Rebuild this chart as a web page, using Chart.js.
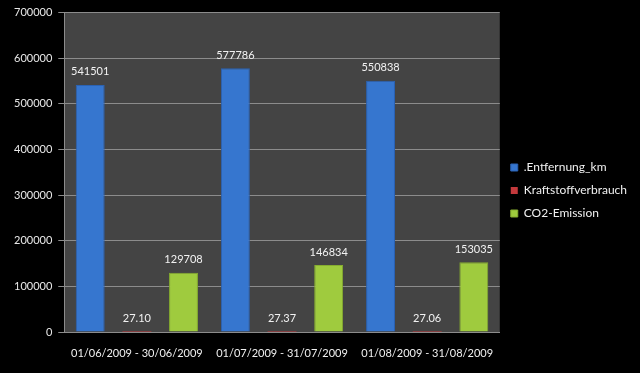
<!DOCTYPE html>
<html>
<head>
<meta charset="utf-8">
<script src="https://cdn.jsdelivr.net/npm/chart.js@4"></script>
<style>
    html, body { margin: 0; padding: 0; background: #000; }
    #wrap { width: 640px; height: 373px; }
</style>
</head>
<body>
<div id="wrap"><canvas id="fuelChart"></canvas></div>
<script>
// Monthly fleet figures, June - August 2009
const periods = ['01/06/2009 - 30/06/2009', '01/07/2009 - 31/07/2009', '01/08/2009 - 31/08/2009'];
const distanceKm = [541501, 577786, 550838];
const fuelUse = [27.10, 27.37, 27.06];
const co2Emission = [129708, 146834, 153035];
const yTicks = [0, 100000, 200000, 300000, 400000, 500000, 600000, 700000];

const FONT = 'Lato, "Open Sans", sans-serif';

// grey plot area behind the bars
const plotBackground = {
    id: 'plotBackground',
    beforeDraw(chart) {
        const { ctx, chartArea: a } = chart;
        ctx.save();
        ctx.fillStyle = '#444444';
        ctx.fillRect(a.left, a.top, a.right - a.left, a.bottom - a.top);
        ctx.restore();
    }
};

// value labels above each bar
const valueLabels = {
    id: 'valueLabels',
    afterDatasetsDraw(chart) {
        const ctx = chart.ctx;
        ctx.save();
        ctx.font = '11px ' + FONT;
        ctx.fillStyle = '#f2f2f2';
        ctx.textAlign = 'center';
        ctx.textBaseline = 'middle';
        chart.data.datasets.forEach((ds, i) => {
            chart.getDatasetMeta(i).data.forEach((bar, j) => {
                const v = ds.data[j];
                const txt = ds.decimals ? v.toFixed(ds.decimals) : String(v);
                ctx.fillText(txt, bar.x, bar.y - 13);
            });
        });
        ctx.restore();
    }
};

new Chart(document.getElementById('fuelChart'), {
    type: 'bar',
    data: {
        labels: periods,
        datasets: [
            { label: '.Entfernung_km', data: distanceKm, backgroundColor: '#3676cf', borderColor: '#2a62b4', borderWidth: 1 },
            { label: 'Kraftstoffverbrauch', data: fuelUse, backgroundColor: '#c4393c', minBarLength: 1, decimals: 2 },
            { label: 'CO2-Emission', data: co2Emission, backgroundColor: '#9fcb3e', borderColor: '#86ad2f', borderWidth: 1 },
        ]
    },
    options: {
        responsive: true,
        maintainAspectRatio: false,
        animation: false,
        barPercentage: 0.62,
        categoryPercentage: 0.964,
        layout: { padding: { top: 8, left: 8, right: 3, bottom: 0 } },
        scales: {
            x: {
                grid: { display: false, drawTicks: false },
                border: { display: true, color: '#8c8c8c' },
                ticks: {
                    color: '#f0f0f0', font: { family: FONT, size: 11 },
                    padding: 15, maxRotation: 0, autoSkip: false
                },
                afterFit: axis => { axis.height = 41; }
            },
            y: {
                min: 0, max: 700000,
                afterBuildTicks: axis => { axis.ticks = yTicks.map(v => ({ value: v })); },
                grid: { color: '#8c8c8c', tickLength: 6 },
                border: { display: true, color: '#8c8c8c' },
                ticks: {
                    color: '#e8e8e8', font: { family: FONT, size: 11 }, padding: 6,
                    callback: v => String(v)
                }
            }
        },
        plugins: {
            legend: {
                position: 'right',
                labels: {
                    color: '#f0f0f0',
                    font: { family: FONT, size: 12 },
                    boxWidth: 7,
                    boxHeight: 7,
                    padding: 11
                }
            },
            tooltip: { enabled: false }
        }
    },
    plugins: [plotBackground, valueLabels]
});
</script>
</body>
</html>
